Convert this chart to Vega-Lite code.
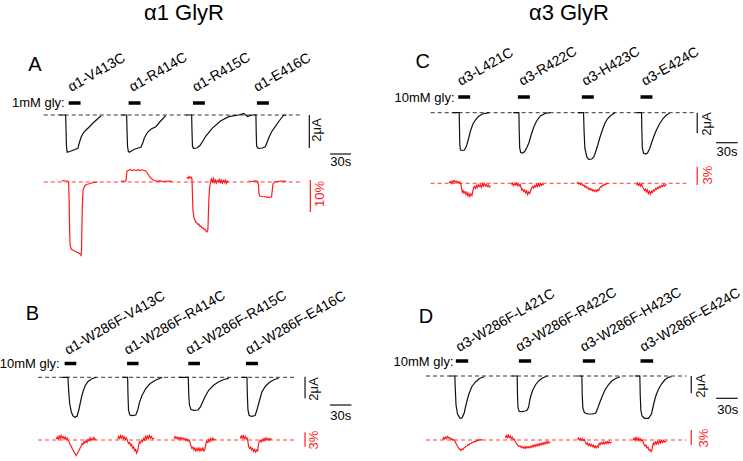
{
  "$schema": "https://vega.github.io/schema/vega-lite/v6.json",
  "width": 743,
  "height": 461,
  "autosize": {"type": "fit", "contains": "padding"},
  "padding": 0,
  "background": "white",
  "config": {"view": {"stroke": null}, "text": {"font": "Liberation Sans"}},
  "datasets": {
    "traces": [
      {"id": "A1", "s": "I", "xs": [60,66,66.4,66.8,67.5,70,74,78.3,80,81.7,84,87,90,94,98,101.7], "ys": [115,115,130,146,152.3,151.5,150,148.3,142,136.7,132.5,129.5,126.7,122.5,119,115.7]},
      {"id": "A2", "s": "I", "xs": [122,127.3,127.7,128.2,129,130,135,139,141.7,143.5,145,148.3,152,156.7,161,166.7], "ys": [115,115,130,146,151.5,152.3,149.3,148,147.3,143,138.3,132.3,129,126.7,121.5,115.7]},
      {"id": "A3", "s": "I", "xs": [187,192.7,193,193.5,194.5,198,201,204,207,213.3,221.7,230,240,245,249,253], "ys": [115,115,130,146,148.3,148,145.5,141,136,128.3,121,116.7,115,113.5,116.5,115]},
      {"id": "A4", "s": "I", "xs": [252,257.3,257.6,258,259.5,264,266.7,269,270,273,276.7,281,285,288], "ys": [115,115,132,146,148.3,148,146.7,141,138.3,132,126.7,120.5,115.5,115]},
      {"id": "C1", "s": "I", "xs": [455,461.7,462,462.3,463,465,467,469,471,473,475.5,478.3,481,485,491.7], "ys": [112.7,112.7,130,145,150,150.5,150,146,139,131,124,119.5,116.5,114,112.7]},
      {"id": "C2", "s": "I", "xs": [516,521.7,522,522.5,523.5,525.5,527.5,529.5,531.7,534,536.7,539.5,543.3,548,553.3], "ys": [112.7,112.7,130,148,152.5,153,151.5,148,143,135,127,121,116,113.5,112.7]},
      {"id": "C3", "s": "I", "xs": [581,586.7,587.2,588,590,592,595,597,598.5,601,603.3,606,608.3,611,614,618.3], "ys": [112.7,112.7,130,148,157,159.3,159,157,153,145,137,129,123,118.5,115.5,112.7]},
      {"id": "C4", "s": "I", "xs": [640,645,645.3,645.8,647,649,651,653,655,657.5,660,663,666.7,670,673.3], "ys": [112.7,112.7,130,148,153,154,153,149,143.3,136,130,124,118.5,115,113.3]},
      {"id": "B1", "s": "I", "xs": [63,68.3,69,70,71.7,73.5,75.5,77.5,79,80.5,82,83.5,85.5,88.3,92,96.7], "ys": [377.3,377.3,390,403,412,416,417.3,416,411,404,397,391.5,386,381.7,379,377.3]},
      {"id": "B2", "s": "I", "xs": [123,128.3,128.7,129.2,130.5,133,136.5,138.5,140,142.5,146.7,151,156.7,163.3], "ys": [377.3,377.3,395,410,415,415.7,415,410,403.3,396,388.3,383.5,380,377.3]},
      {"id": "B3", "s": "I", "xs": [180,189.3,189.8,190.5,192,195,199,201.5,203.3,206.5,210,215,220,225,230], "ys": [377.3,377.3,395,405,409.5,410.3,410,407,403,396,390,385,381.7,379.5,378.3]},
      {"id": "B4", "s": "I", "xs": [243,248.3,248.7,249.3,250.5,253,256.5,258.3,260.5,263.3,267,271.7,276,280], "ys": [377.3,377.3,395,410,415.5,416.3,415.5,410,402,392,386,381.7,379.5,378.3]},
      {"id": "D1", "s": "I", "xs": [452,457.3,457.8,458.5,460,462.5,464.5,466.7,468.5,470,471.7,474.5,478.3,482,486.7], "ys": [376,376,390,405,414,418.3,418,413,405,399,393.3,386.5,381.7,378.5,376.7]},
      {"id": "D2", "s": "I", "xs": [515,520,520.3,520.8,522,525,528,530,531.5,532.5,533.5,535.5,538.3,541.5,545,550], "ys": [376,376,395,408,411.5,411.7,411,410,407,401,396.5,390.5,385,381,378.3,376]},
      {"id": "D3", "s": "I", "xs": [580,585,585.4,586,587.5,591,596,599,601,603.3,606,608.3,611.5,615,619,623.3], "ys": [376,376,395,408,412.5,414,414,413,408,401.7,395,390,385,381,378.5,376.7]},
      {"id": "D4", "s": "I", "xs": [638,643.3,643.7,644.3,645.5,648,652,655,657,659,661.7,665,668.3,671.5,675], "ys": [376,376,395,410,416,418.3,418.3,414,405,397,390,384,380,377.5,376.7]},
      {"id": "RA1", "s": "F", "xs": [62,64,66,68,69,69.5,70,70.5,71.5,74,77,80,81.5,82,82.3,82.8,83.5,85,87,89,92,95,98], "ys": [181,180.5,181,181,181.5,200,230,245,249,250.5,252,253.5,255.5,250,230,205,190,186,184.5,184,183,182.5,182]},
      {"id": "RA2", "s": "F", "xs": [121.7,124,126.5,127.3,127.7,129,131,133,135,137,139,141,143,145,146.5,148,150,152,155,158,161,164,167,170,173], "ys": [181,181.3,181,175,171,170.5,169.5,170.5,169.8,170.7,169.6,170.4,169.8,170.5,171,173,176,178.5,180.5,181.2,180.8,181.5,181,181.4,181]},
      {"id": "RA3", "s": "F", "xs": [188,189,190,191,192,193,193.5,194,195,196,197,198,199,200,201,202,203,204,205,206,207,208,209,209.5,210,210.7,211.5,212.5,213.5,214.5,215.5,216.5,217.5,218.5,219.5,220.5,221.5,222.5,223.5,224.5,225.5,226.5,227.5,228.5,229.5], "ys": [177,178.5,176.5,178,177,179,195,210,218,220,222.5,223,224.5,224,226.5,226,228,227.5,229.5,229,231,232,230,215,200,188,183,179,182,178.5,182.5,180,183,180.5,182,179.5,182.5,180,183,180.5,182.5,180,183.5,181,182.5]},
      {"id": "RA4", "s": "F", "xs": [250,253,256,259,260,260.3,261,264,267,270,273,273.8,274.5,276,279,282,285,288], "ys": [181,181.5,180.8,181.3,185,193,196,196.5,196.8,197.3,197,190,184,182,181.5,181,181.4,181]},
      {"id": "RC1", "s": "F", "xs": [451.7,452.5,453.5,454.5,455.5,456.5,457.5,458.5,459.5,460.5,461.5,462.5,463.3,464,464.8,465.5,466.5,467.5,468.5,469.5,470.5,471.5,472.5,473.5,474.5,475.3,476,477,478,479,480,481,482,483,484,485,486,487,488,489,490,491,492,493.3], "ys": [183,181.5,183.5,181,182.5,180.5,182,181,183,181.5,183,182,184,188,192,190.5,193,191.5,194.5,192.5,196,193.5,196.5,194,195.5,192,188,186.5,188.5,185.5,187.5,184.5,186.5,185,187.5,184,186,183.5,186,184.5,186.5,185,187,186]},
      {"id": "RC2", "s": "F", "xs": [514,515,516,517,518,519,520,521,522,523,523.7,524.5,525.5,526.5,527.5,528.5,529.5,530.5,531.5,532.5,533.5,534.5,535.5,536.5,537.5,538.5,539.5,540.5,541.5,542.5,543.5,544.5,545.5,546.7], "ys": [184.5,183,185.5,183.5,185,183,185.5,184,186,184.5,187,190,189,191.5,190,193,191,194.5,192,193.5,191,188,186.5,188,185.5,187,184.5,186.5,184,186,183.5,185.5,184,185]},
      {"id": "RC3", "s": "F", "xs": [580,581,582,583,584,585,586,587,588,589,590,591,592,593,594,595,596,597,598,599,600,601,602,603,604,605,606,607,608,609,610,611.7], "ys": [183.5,182.5,184,183,184.5,183.5,185.5,185,187,186,188,187.5,189.5,188.5,190,189,191,190,191.5,190,191.5,189.5,190.5,188,186.5,187,185,185.5,184,184.5,183.5,183.5]},
      {"id": "RC4", "s": "F", "xs": [640,641,642,643,644,645,646,647,648,649,650,651,652,653,654,655,656,657,658,659,660,661,662,663,664,665,666,667,668,669,670], "ys": [185,183,185.5,183.5,186,184,187,188.5,190.5,189,192,190,193.5,191.5,194,191,192.5,190,191,188.5,189.5,187.5,188.5,186.5,187.5,185.5,186.5,185,186,184.5,185.5]},
      {"id": "RB1", "s": "F", "xs": [56.7,57.5,58.5,59.5,60.5,61.5,62.5,63.5,64.5,65.5,66.5,67.5,68.5,69.5,70.5,71.5,72.5,73.5,74.5,75.5,76.5,77.5,78.5,79.5,80.5,81.5,82.5,83.5,84.5,85.5,86.5,87.5,88.5,89.5,90.5,91.5,92.5,93.5,94.5,95.5,96.7], "ys": [439,437,439.5,436,438.5,435.5,438,436.5,439,437,439.5,438,440.5,442,444.5,446,448.5,450,452.5,453.5,455.5,454,452,450.5,448,446.5,443.5,444.5,441.5,443,440.5,442.5,439.5,441,438,440.5,438.5,440,437.5,439.5,439]},
      {"id": "RB2", "s": "F", "xs": [118.3,119.3,120.3,121.3,122.3,123.3,124.3,125.3,126.3,127.3,128.3,129.3,130.3,131.3,132.3,133.3,134.3,135.3,136.3,137.3,138.3,139.3,140.3,141.3,142.3,143.3,144.3,145.3,146.3,147.3,148.3,149.3,150.3,151.3,152.3,153.3,155], "ys": [439,436.5,438.5,435.5,438,436,439,437,439.5,438,441,443.5,442.5,445.5,444.5,448,447,450.5,449.5,453,451,446,442,443,440,441.5,438.5,440,436.5,439,436,438.5,435.5,438,436.5,439,438]},
      {"id": "RB3", "s": "F", "xs": [175,176,177,178,179,180,181,182,183,184,185,186,187,188,189,190,191,192,193,194,195,196,197,198,199,200,201,202,203,204,205,206,207,208,209,210,211,212,213,214,215,216.7], "ys": [438.5,436.5,438.5,437,439,437.5,439.5,437.5,439,438,440,438.5,440.5,439,441,440,442.5,446,448.5,447,450,448,451,448.5,450.5,448,451,448.5,450.5,448,451,449,444,441,442.5,439.5,441.5,438.5,440.5,438,440,439]},
      {"id": "RB4", "s": "F", "xs": [241.7,242.5,243.5,244.5,245.5,246.5,247.5,248.5,249.3,250,251,252,253,254,255,256,257,258,259,259.7,260.5,261.5,262.5,263.5,264.5,265.5,266.5,267.5,268.5,269.5,270.5,271.5,273.3], "ys": [438.5,436,438,435.5,438.5,436.5,439,438,442,446.5,448.5,447,450,448.5,451.5,449.5,452,450,451,446,442,440.5,442,439.5,441,438.5,440.5,438,440,438.5,440.5,438.5,439.5]},
      {"id": "RD1", "s": "F", "xs": [445,446,447,448,449,450,451,452,453,454,455,456,457.3,458.5,459.5,460.5,461.5,462.5,463.5,464.5,465.5,466.5,467.5,468.5,469.5,470.5,471.5,472.5,473.5,474.5,475.5,476.5,477.5,478.5,479.5,480.5,481.5,482.5,483.5,485], "ys": [439.5,437.5,439,437,438.5,436.5,438,437.5,439.5,438.5,440,439.5,441,443.5,445.5,447,448.5,449.5,450.5,449,449.5,448,447.5,446,446,444.5,445,443.5,443.5,442.5,442.5,441.5,442,440.5,441,440,440.5,439.5,440,439.5]},
      {"id": "RD2", "s": "F", "xs": [508.3,509,510,511,512,513,514,515,516,517,518,519,520,521,522,523,524,525,526,527,528,529,530,531,532,533,534,535,536,537,538,539,540,541,542,543,544,545,546,547,548,549,550,551,552,553.3], "ys": [438,435.5,437.5,435,437.5,436,438.5,437,439.5,439,441.5,443,444.5,445.5,446.5,446,447.5,446.5,448,447,448.5,446.5,448,446.5,448,446.5,447.5,445.5,447,445,446.5,444.5,446,444,445.5,443.5,445,443,444.5,442.5,444,442,443.5,441.5,443,442]},
      {"id": "RD3", "s": "F", "xs": [580.7,581.5,582.5,583.5,584.5,585.5,586.5,587.5,588.3,589.5,590.5,591.5,592.5,593.5,594.5,595.5,596.5,597.5,598.5,599.5,600.5,601.5,602.5,603.5,604.5,605.5,606.5,607.5,608.5,609.5,610.5,611.5,612.5,613.5,615], "ys": [439.5,438,440,438.5,440.5,438.5,440.5,439.5,441.5,444,443,445.5,444,446,444.5,446.5,445,447.5,446,448,446,447,443.5,444.5,442.5,444,442,444,442,443.5,441.5,443.5,441.5,443,442]},
      {"id": "RD4", "s": "F", "xs": [636.7,637.5,638.5,639.5,640.5,641.5,642.5,643.5,644.5,645.5,646.7,647.5,648.5,649.5,650.5,651.5,652.5,653.5,654.5,655.5,656.2,657,658,659,660,661,662,663,664,665,666,667,668,670], "ys": [440,438,440.5,437.5,440,438,440.5,438.5,441,439.5,442,444.5,446,445,448,447,450,449.5,451.5,450,446,443,444.5,442,444,441.5,443.5,441,443,440.5,442.5,440.5,442,441]}
    ],
    "baselines": [
      {"s": "I", "x": 44, "x2": 303, "y": 115},
      {"s": "F", "x": 44, "x2": 302, "y": 182},
      {"s": "I", "x": 433, "x2": 698, "y": 112.7},
      {"s": "F", "x": 433, "x2": 690, "y": 183.3},
      {"s": "I", "x": 38.3, "x2": 298.3, "y": 377.3},
      {"s": "F", "x": 38.3, "x2": 298.3, "y": 440},
      {"s": "I", "x": 428.3, "x2": 690, "y": 376},
      {"s": "F", "x": 428.3, "x2": 690, "y": 440}
    ],
    "scalebars": [
      {"s": "I", "x": 311, "x2": 311, "y": 115, "y2": 148},
      {"s": "I", "x": 332, "x2": 353, "y": 154, "y2": 154},
      {"s": "F", "x": 312, "x2": 312, "y": 180, "y2": 212},
      {"s": "I", "x": 701, "x2": 701, "y": 112.7, "y2": 133.3},
      {"s": "I", "x": 720, "x2": 741.7, "y": 142.7, "y2": 142.7},
      {"s": "F", "x": 701, "x2": 701, "y": 166.7, "y2": 185},
      {"s": "I", "x": 306.7, "x2": 306.7, "y": 376.7, "y2": 398.3},
      {"s": "I", "x": 331.7, "x2": 353.3, "y": 405, "y2": 405},
      {"s": "F", "x": 306.7, "x2": 306.7, "y": 432.3, "y2": 446.7},
      {"s": "I", "x": 695, "x2": 695, "y": 376, "y2": 393.3},
      {"s": "I", "x": 720, "x2": 741.7, "y": 398.3, "y2": 398.3},
      {"s": "F", "x": 695, "x2": 695, "y": 430, "y2": 445}
    ],
    "gly": [
      {"x": 69, "x2": 81, "y": 103},
      {"x": 129.3, "x2": 141.3, "y": 103},
      {"x": 194, "x2": 206, "y": 103},
      {"x": 258.3, "x2": 270.3, "y": 103},
      {"x": 460.7, "x2": 472.7, "y": 97},
      {"x": 520.7, "x2": 532.7, "y": 97},
      {"x": 585, "x2": 597, "y": 97},
      {"x": 644, "x2": 656, "y": 97},
      {"x": 65, "x2": 76.7, "y": 363.5},
      {"x": 127.7, "x2": 139.3, "y": 363.5},
      {"x": 189.3, "x2": 201, "y": 363.5},
      {"x": 247.3, "x2": 259.3, "y": 363.5},
      {"x": 458.3, "x2": 470.7, "y": 361},
      {"x": 521.7, "x2": 534, "y": 361},
      {"x": 586, "x2": 598.3, "y": 361},
      {"x": 644, "x2": 656.7, "y": 361}
    ],
    "titles": [
      {"x": 185, "y": 3, "t": "α1 GlyR"},
      {"x": 572, "y": 3, "t": "α3 GlyR"}
    ],
    "letters": [
      {"x": 35, "y": 65, "t": "A"},
      {"x": 425, "y": 62, "t": "C"},
      {"x": 32.5, "y": 314, "t": "B"},
      {"x": 428.3, "y": 316.7, "t": "D"}
    ],
    "mutants": [
      {"x": 71.7, "y": 92, "t": "α1-V413C"},
      {"x": 133.3, "y": 92, "t": "α1-R414C"},
      {"x": 196.7, "y": 92, "t": "α1-R415C"},
      {"x": 258.3, "y": 92, "t": "α1-E416C"},
      {"x": 463.3, "y": 86, "t": "α3-L421C"},
      {"x": 525, "y": 86, "t": "α3-R422C"},
      {"x": 588.3, "y": 86, "t": "α3-H423C"},
      {"x": 648.3, "y": 86, "t": "α3-E424C"},
      {"x": 68.3, "y": 355, "t": "α1-W286F-V413C"},
      {"x": 128.3, "y": 355, "t": "α1-W286F-R414C"},
      {"x": 190, "y": 355, "t": "α1-W286F-R415C"},
      {"x": 250, "y": 355, "t": "α1-W286F-E416C"},
      {"x": 461.7, "y": 352, "t": "α3-W286F-L421C"},
      {"x": 521.7, "y": 352, "t": "α3-W286F-R422C"},
      {"x": 586.7, "y": 352, "t": "α3-W286F-H423C"},
      {"x": 646.7, "y": 352, "t": "α3-W286F-E424C"}
    ],
    "glytext": [
      {"x": 65, "y": 103, "t": "1mM gly:"},
      {"x": 457, "y": 98, "t": "10mM gly:"},
      {"x": 60, "y": 364, "t": "10mM gly:"},
      {"x": 456, "y": 362, "t": "10mM gly:"}
    ],
    "timetext": [
      {"x": 342.5, "y": 162, "t": "30s"},
      {"x": 731, "y": 152, "t": "30s"},
      {"x": 342.5, "y": 416, "t": "30s"},
      {"x": 731.7, "y": 410, "t": "30s"}
    ],
    "vtext": [
      {"s": "I", "x": 319, "y": 130, "t": "2μA"},
      {"s": "F", "x": 321.5, "y": 194, "t": "10%"},
      {"s": "I", "x": 711, "y": 124, "t": "2μA"},
      {"s": "F", "x": 712, "y": 175, "t": "3%"},
      {"s": "I", "x": 316, "y": 389, "t": "2μA"},
      {"s": "F", "x": 316, "y": 440, "t": "3%"},
      {"s": "I", "x": 705, "y": 386, "t": "2μA"},
      {"s": "F", "x": 707.5, "y": 438, "t": "3%"}
    ]
  },
  "encoding": {
    "x": {"field": "x", "type": "quantitative", "scale": {"domain": [0, 743], "nice": false, "zero": false}, "axis": null},
    "y": {"field": "y", "type": "quantitative", "scale": {"domain": [0, 461], "reverse": true, "nice": false, "zero": false}, "axis": null}
  },
  "layer": [
    {
      "data": {"name": "baselines"},
      "mark": {"type": "rule", "strokeDash": [4, 3], "strokeWidth": 1, "opacity": 0.85},
      "encoding": {
        "x2": {"field": "x2"},
        "color": {"field": "s", "type": "nominal", "scale": {"domain": ["I", "F"], "range": ["#111111", "#ff1a1a"]}, "legend": null}
      }
    },
    {
      "data": {"name": "traces"},
      "transform": [{"flatten": ["xs", "ys"], "as": ["x", "y"]}],
      "mark": {"type": "line", "strokeWidth": 1.2, "interpolate": "linear"},
      "encoding": {
        "detail": {"field": "id", "type": "nominal"},
        "color": {"field": "s", "type": "nominal", "scale": {"domain": ["I", "F"], "range": ["#111111", "#ff1a1a"]}, "legend": null}
      }
    },
    {
      "data": {"name": "scalebars"},
      "mark": {"type": "rule", "strokeWidth": 1.2},
      "encoding": {
        "x2": {"field": "x2"},
        "y2": {"field": "y2"},
        "color": {"field": "s", "type": "nominal", "scale": {"domain": ["I", "F"], "range": ["#111111", "#ff1a1a"]}, "legend": null}
      }
    },
    {
      "data": {"name": "gly"},
      "mark": {"type": "rule", "strokeWidth": 3.5, "color": "#000000"},
      "encoding": {"x2": {"field": "x2"}}
    },
    {
      "data": {"name": "titles"},
      "mark": {"type": "text", "fontSize": 22, "align": "center", "baseline": "top", "color": "#000000"},
      "encoding": {"text": {"field": "t"}}
    },
    {
      "data": {"name": "letters"},
      "mark": {"type": "text", "fontSize": 20, "align": "center", "baseline": "middle", "color": "#000000"},
      "encoding": {"text": {"field": "t"}}
    },
    {
      "data": {"name": "mutants"},
      "mark": {"type": "text", "fontSize": 14, "align": "left", "baseline": "alphabetic", "angle": -30, "color": "#000000"},
      "encoding": {"text": {"field": "t"}}
    },
    {
      "data": {"name": "glytext"},
      "mark": {"type": "text", "fontSize": 13, "align": "right", "baseline": "middle", "color": "#000000"},
      "encoding": {"text": {"field": "t"}}
    },
    {
      "data": {"name": "timetext"},
      "mark": {"type": "text", "fontSize": 13, "align": "center", "baseline": "middle", "color": "#000000"},
      "encoding": {"text": {"field": "t"}}
    },
    {
      "data": {"name": "vtext"},
      "mark": {"type": "text", "fontSize": 13, "align": "center", "baseline": "middle", "angle": -90},
      "encoding": {
        "text": {"field": "t"},
        "color": {"field": "s", "type": "nominal", "scale": {"domain": ["I", "F"], "range": ["#111111", "#ff1a1a"]}, "legend": null}
      }
    }
  ]
}
